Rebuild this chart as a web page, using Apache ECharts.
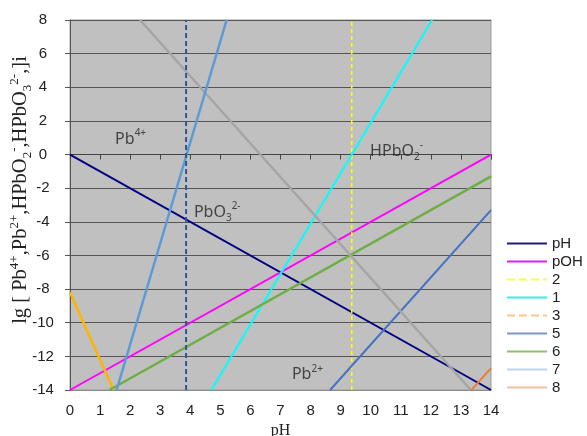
<!DOCTYPE html>
<html><head><meta charset="utf-8">
<script src="https://cdn.jsdelivr.net/npm/echarts@6/dist/echarts.min.js"></script>
<style>html,body{margin:0;padding:0;background:#fff}#c{width:587px;height:436px}</style>
</head><body><div id="c"></div>
<script>
// Data (x = pH, y = lg c)
const linePH   = [[0, 0], [14, -14]];
const linePOH  = [[0, -14], [14, 0]];
const line2    = [[9.37, -14], [9.37, 8]];
const line1    = [[4.70, -14], [12.04, 8]];
const line3    = [[0, -8.2], [1.45, -14]];
const line5    = [[8.65, -14], [14, -3.3]];
const line6    = [[1.31, -14], [14, -1.3]];
const line7    = [[2.33, 8], [13.33, -14]];
const line8    = [[13.35, -14], [14, -12.7]];
const lineSteep = [[1.55, -14], [5.21, 8]];
const lineVert  = [[3.86, -14], [3.86, 8]];
const legendNames = ['pH', 'pOH', '2', '1', '3', '5', '6', '7', '8'];
const annotations = [
  {text: 'Pb{sup|4+}', pos: [1.5, 0.9]},
  {text: 'HPbO{sub|2}{sup|-}', pos: [9.98, 0.2]},
  {text: 'PbO{sub|3}{sup|2-}', pos: [4.12, -3.45]},
  {text: 'Pb{sup|2+}', pos: [7.38, -13.1]}
];
const xTicks = {min: 0, max: 14, interval: 1};
const yTicks = {min: -14, max: 8, interval: 2};

const chart = echarts.init(document.getElementById('c'), null, {renderer: 'canvas'});
function ln(name, data, color, width, type) {
  return {name, type: 'line', data, symbol: 'none', showSymbol: false, silent: true,
    lineStyle: {color, width, type: type || 'solid'}, itemStyle: {color}, z: 3};
}
const legendStyle = {
  'pH': {color: '#1a1a80', type: 'solid'},
  'pOH': {color: '#e020e0', type: 'solid'},
  '2': {color: '#ffff40', type: 'dashed'},
  '1': {color: '#30f0f0', type: 'solid'},
  '3': {color: '#f8c888', type: 'dashed'},
  '5': {color: '#7a96cc', type: 'solid'},
  '6': {color: '#8dbe70', type: 'solid'},
  '7': {color: '#bfd2ec', type: 'solid'},
  '8': {color: '#f4bfa0', type: 'solid'}
};
const rich = {
  sup: {fontSize: 10, verticalAlign: 'top', lineHeight: 22, fontFamily: 'Noto Sans', color: '#222'},
  sub: {fontSize: 10, verticalAlign: 'bottom', lineHeight: 22, fontFamily: 'Noto Sans', color: '#222'}
};
const serifRich = {
  sup: {fontSize: 13, verticalAlign: 'top', lineHeight: 26, fontFamily: 'Liberation Serif', color: '#222'},
  sub: {fontSize: 13, verticalAlign: 'bottom', lineHeight: 26, fontFamily: 'Liberation Serif', color: '#222'}
};
chart.setOption({
  animation: false,
  backgroundColor: '#fff',
  grid: {left: 70, right: 96, top: 20, bottom: 46, containLabel: false, outerBoundsMode: 'none',
    show: true, backgroundColor: '#c0c0c0', borderColor: '#9a9a9a', borderWidth: 1},
  legend: {
    orient: 'vertical', left: 501, top: 231, itemWidth: 40, itemHeight: 14, itemGap: 3,
    textStyle: {fontFamily: 'Liberation Sans', fontSize: 15, color: '#222'},
    data: legendNames.map(n => ({name: n,
      lineStyle: {color: legendStyle[n].color, type: legendStyle[n].type, width: 2},
      itemStyle: {color: legendStyle[n].color, opacity: 0}}))
  },
  xAxis: [{
    type: 'value', min: xTicks.min, max: xTicks.max, interval: xTicks.interval, position: 'bottom',
    axisLine: {onZero: false, lineStyle: {color: '#8a8a8a', width: 1}},
    axisTick: {show: false},
    axisLabel: {fontFamily: 'Liberation Sans', fontSize: 15, color: '#222', margin: 13},
    splitLine: {show: false},
    name: 'pH', nameLocation: 'middle', nameGap: 30,
    nameTextStyle: {fontFamily: 'Liberation Serif', fontSize: 16, color: '#222'}
  }, {
    type: 'value', min: xTicks.min, max: xTicks.max, interval: xTicks.interval, position: 'top',
    axisLine: {onZero: true, lineStyle: {color: '#444', width: 1}},
    axisTick: {show: true, inside: true, length: 5, lineStyle: {color: '#444'}},
    axisLabel: {show: false}, splitLine: {show: false}
  }],
  yAxis: {
    type: 'value', min: yTicks.min, max: yTicks.max, interval: yTicks.interval,
    axisLine: {show: true, onZero: false, lineStyle: {color: '#555', width: 1}},
    axisTick: {show: true, length: 5, lineStyle: {color: '#555'}},
    axisLabel: {fontFamily: 'Liberation Sans', fontSize: 15, color: '#222', margin: 27, align: 'center'},
    splitLine: {show: true, lineStyle: {color: '#555', width: 1}},
    name: 'lg [ Pb{sup|4+},Pb{sup|2+},HPbO{sub|2}{sup|-},HPbO{sub|3}{sup|2-},]i',
    nameLocation: 'middle', nameRotate: 90, nameGap: 36, nameMoveOverlap: false,
    nameTextStyle: {fontFamily: 'Liberation Serif', fontSize: 20.5, color: '#222', lineHeight: 26, padding: [0, 0, 0, 30], rich: serifRich}
  },
  series: [
    ln('pH', linePH, '#000080', 2),
    ln('pOH', linePOH, '#ff00ff', 2),
    ln('2', line2, '#ffff00', 1.5, [4, 3]),
    ln('1', line1, '#00ffff', 2),
    ln('3', line3, '#ffb400', 2.5),
    ln('5', line5, '#4472c4', 2),
    ln('6', line6, '#70ad47', 2.5),
    ln('7', line7, '#a5a5a5', 2.5),
    ln('8', line8, '#ed7d31', 2),
    ln('steep', lineSteep, '#5b9bd5', 2.5),
    ln('vert', lineVert, '#2f5597', 2, [5, 3]),
    {
      name: 'labels', type: 'scatter', symbolSize: 0, silent: true, z: 5,
      data: annotations.map(a => ({value: a.pos, label: {formatter: a.text}})),
      label: {show: true, position: [0, 0], align: 'left', verticalAlign: 'middle',
        fontFamily: 'Noto Sans', fontSize: 16, color: '#222', lineHeight: 22, rich: rich}
    }
  ]
});
</script></body></html>
